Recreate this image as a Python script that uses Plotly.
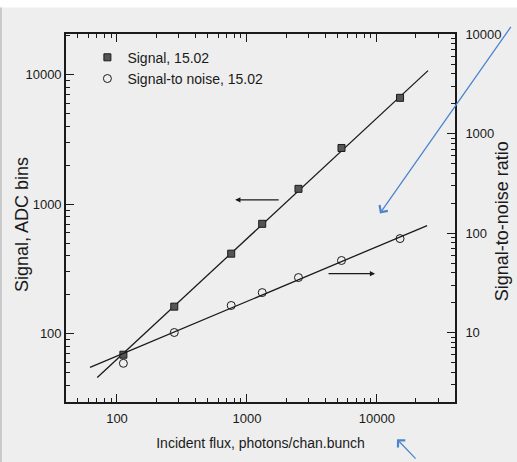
import numpy as np
import plotly.graph_objects as go

# Measured signal and signal-to-noise versus incident flux (run 15.02)
flux = [112, 276, 757, 1312, 2495, 5350, 15100]
signal_adc = [69, 162, 415, 705, 1312, 2710, 6600]
snr = [4.9, 10.0, 18.7, 25.2, 35.7, 53, 88]

# Power-law fits (end points of the fitted lines)
signal_fit_x = [70.5, 24800]
signal_fit_y = [46, 10700]
snr_fit_x = [62, 24400]
snr_fit_y = [4.45, 119]

# Axis ranges (data units)
x_range = [40.5, 40000]
y_left_range = [29.8, 20500]
y_right_range = [2.0, 10050]

FONT = "Liberation Sans, Arial, sans-serif"
INK = "#1a1a1a"
BG = "#eeeeee"

fig = go.Figure()

fig.add_trace(go.Scatter(
    x=signal_fit_x, y=signal_fit_y, mode="lines",
    line=dict(color=INK, width=1.3), showlegend=False, hoverinfo="skip"))
fig.add_trace(go.Scatter(
    x=snr_fit_x, y=snr_fit_y, mode="lines", yaxis="y2",
    line=dict(color=INK, width=1.3), showlegend=False, hoverinfo="skip"))

fig.add_trace(go.Scatter(
    x=flux, y=signal_adc, mode="markers", name="Signal, 15.02",
    marker=dict(symbol="square", size=7, color="#555555",
                line=dict(color=INK, width=1))))
fig.add_trace(go.Scatter(
    x=flux, y=snr, mode="markers", name="Signal-to noise, 15.02", yaxis="y2",
    marker=dict(symbol="circle-open", size=8, color=INK,
                line=dict(color=INK, width=1))))

axis_common = dict(
    type="log", dtick=1, tickformat="d", showgrid=False, zeroline=False,
    automargin=False,
    showline=True, linecolor=INK, linewidth=1.6,
    ticks="inside", ticklen=8, tickwidth=1.4, tickcolor=INK,
    minor=dict(ticks="inside", dtick="D1", ticklen=4, tickwidth=1.1,
               tickcolor=INK, showgrid=False),
    tickfont=dict(family=FONT, size=13, color=INK),
)

fig.update_layout(
    width=517, height=462,
    margin=dict(l=66, r=62, t=34, b=60),
    paper_bgcolor=BG, plot_bgcolor=BG,
    font=dict(family=FONT, size=14, color=INK),
    xaxis=dict(axis_common, range=list(np.log10(x_range)), mirror="ticks",
               ticklabelstandoff=4,
               title=dict(text="Incident flux, photons/chan.bunch",
                          font=dict(family=FONT, size=14, color=INK), standoff=13)),
    yaxis=dict(axis_common, range=list(np.log10(y_left_range))),
    yaxis2=dict(axis_common, range=list(np.log10(y_right_range)),
                overlaying="y", side="right", ticklabelstandoff=6),
    legend=dict(x=0.055, y=0.979, xanchor="left", yanchor="top",
                bgcolor="rgba(0,0,0,0)", font=dict(family=FONT, size=14, color=INK),
                tracegroupgap=0),
    showlegend=True,
)

# Vertical axis titles
fig.add_annotation(x=-0.113, y=0.481, xref="paper", yref="paper",
                   text="Signal, ADC bins", textangle=-90, showarrow=False,
                   xanchor="center", yanchor="middle",
                   font=dict(family=FONT, size=18, color=INK))
fig.add_annotation(x=1.1208, y=0.491, xref="paper", yref="paper",
                   text="Signal-to-noise ratio", textangle=-90, showarrow=False,
                   xanchor="center", yanchor="middle",
                   font=dict(family=FONT, size=18, color=INK))

# Direction arrows pointing each fit to its own axis
lx = np.log10
fig.add_annotation(x=lx(813), y=lx(1079), ax=lx(1803), ay=lx(1079),
                   xref="x", yref="y", axref="x", ayref="y", text="",
                   showarrow=True, arrowhead=2, arrowsize=0.8, arrowwidth=1.3,
                   arrowcolor=INK)
fig.add_annotation(x=lx(9700), y=lx(291), ax=lx(4140), ay=lx(291),
                   xref="x", yref="y", axref="x", ayref="y", text="",
                   showarrow=True, arrowhead=2, arrowsize=0.8, arrowwidth=1.3,
                   arrowcolor=INK)

# Blue pointer arrows
BLUE = "#4d84cf"
fig.add_annotation(x=0.807, y=0.5125, xref="paper", yref="paper", text="",
                   ax=132, ay=-188, showarrow=True, arrowhead=4, arrowsize=1.5,
                   arrowwidth=1.3, arrowcolor=BLUE)
fig.add_annotation(x=0.851, y=-0.101, xref="paper", yref="paper", text="",
                   ax=20, ay=21, showarrow=True, arrowhead=4, arrowsize=1.5,
                   arrowwidth=1.3, arrowcolor=BLUE)

# White band along the top and a grey edge on the left of the page
fig.add_shape(type="rect", xref="paper", yref="paper", layer="below",
              x0=-0.18, x1=1.17, y0=1.072, y1=1.10,
              fillcolor="white", line=dict(width=0))
fig.add_shape(type="rect", xref="paper", yref="paper", layer="below",
              x0=-0.1697, x1=-0.1646, y0=-0.17, y1=1.072,
              fillcolor="#c9c9c9", line=dict(width=0))

fig.write_html("out.html")
